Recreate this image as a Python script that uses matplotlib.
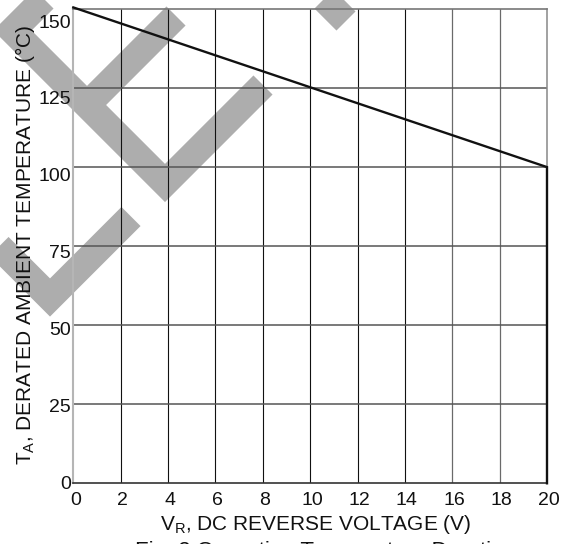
import matplotlib
matplotlib.use('Agg')
import matplotlib.pyplot as plt
from matplotlib.lines import Line2D
from matplotlib.transforms import ScaledTranslation

plt.rcParams['font.family'] = ['Liberation Sans', 'DejaVu Sans']
plt.rcParams['mathtext.fontset'] = 'custom'
plt.rcParams['mathtext.rm'] = 'Liberation Sans'
plt.rcParams['mathtext.it'] = 'Liberation Sans'

# ---- data ----
voltage = [0, 20, 20]
temperature = [150.5, 100, 0]
x_ticks = [0, 2, 4, 6, 8, 10, 12, 14, 16, 18, 20]
y_ticks = [0, 25, 50, 75, 100, 125, 150]
x_label = r'V$_{\rm R}$, DC REVERSE VOLTAGE (V)'
y_label = r'T$_{\rm A}$, DERATED AMBIENT TEMPERATURE (°C)'
caption = 'Fig. 2 Operating Temperature Derating'

# ---- decoration (watermark bands, pixel coords of the image) ----
wm_paths = [
    [(52.5, -9.5), (12.5, 30.5), (165, 183), (263, 85)],
    [(176, 16), (84, 108)],
    [(-20, 227.5), (50, 297.5), (131, 216.5)],
    [(316, -9), (346, 21)],
]

W, H = 569, 544
DPI = 100
fig = plt.figure(figsize=(W / DPI, H / DPI), dpi=DPI)
fig.patch.set_facecolor('white')

for path in wm_paths:
    xs = [p[0] / W for p in path]
    ys = [1 - p[1] / H for p in path]
    fig.add_artist(Line2D(xs, ys, transform=fig.transFigure, color='#adadad',
                          lw=27 * 72 / DPI, solid_joinstyle='miter',
                          solid_capstyle='butt', zorder=-1))

L, R, T, B = 73.3, 547.0, 9.0, 483.3
ax = fig.add_axes([L / W, (H - B) / H, (R - L) / W, (B - T) / H])
ax.set_facecolor('none')
ax.set_xlim(0, 20)
ax.set_ylim(0, 150)

ax.plot(voltage, temperature, color='#111111', lw=1.7, clip_on=False,
        solid_joinstyle='miter', zorder=5)

ax.set_xticks(x_ticks)
ax.set_yticks(y_ticks)
ax.set_xticklabels([str(v) for v in x_ticks], fontsize=14)
ax.set_yticklabels([str(v) for v in y_ticks], fontsize=14)
ax.tick_params(axis='both', length=0, colors='#111111')
ax.tick_params(axis='y', pad=1.5)
ax.tick_params(axis='x', pad=6.0)

ax.grid(True, zorder=1)
for v, gl in zip(x_ticks, ax.xaxis.get_gridlines()):
    if v in (0, 20):
        gl.set_visible(False)
    elif v >= 16:
        gl.set_color('#6a6a6a'); gl.set_linewidth(0.9)
    else:
        gl.set_color('#111111'); gl.set_linewidth(0.8)
for v, gl in zip(y_ticks, ax.yaxis.get_gridlines()):
    if v in (0, 150):
        gl.set_visible(False)
    else:
        gl.set_color('#555555'); gl.set_linewidth(1.1)

ax.spines['left'].set_color('#b5b5b5'); ax.spines['left'].set_linewidth(1.5)
ax.spines['bottom'].set_color('#333333'); ax.spines['bottom'].set_linewidth(1.2)
ax.spines['top'].set_color('#777777'); ax.spines['top'].set_linewidth(1.2)
ax.spines['right'].set_color('#888888'); ax.spines['right'].set_linewidth(1.1)

# y tick labels sit progressively lower than their grid lines in the original
for v, lab in zip(y_ticks, ax.get_yticklabels()):
    off = -1.0 + 0.087 * v
    lab.set_transform(lab.get_transform() +
                      ScaledTranslation(0, -off / DPI, fig.dpi_scale_trans))
for lab in ax.get_xticklabels():
    lab.set_transform(lab.get_transform() +
                      ScaledTranslation(2 / DPI, 0, fig.dpi_scale_trans))

fig.text(316 / W, 1 - 513 / H, x_label, fontsize=15, ha='center', va='top',
         color='#111111')
fig.text(25 / W, 1 - 244.5 / H, y_label, fontsize=15, ha='center', va='center',
         rotation=90, color='#111111')
fig.text(135 / W, 1 - 540.5 / H, caption, fontsize=16, ha='left', va='top',
         color='#111111')

fig.savefig('out.png', dpi=DPI, facecolor='white')
